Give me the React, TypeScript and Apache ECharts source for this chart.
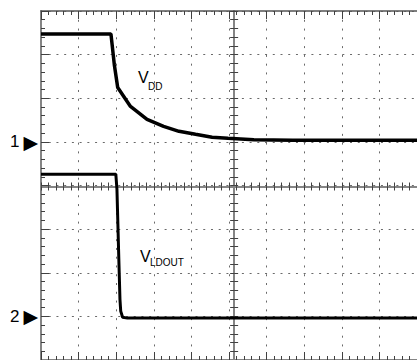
import React, { useEffect, useRef } from "react";
import * as echarts from "echarts";

// Time in divisions (0..10), levels in divisions relative to each channel's ground marker
const vddTime = [0, 1.86, 1.95, 2.04, 2.38, 2.82, 3.26, 3.67, 4.11, 4.55, 4.97, 5.66, 6.7, 8.0, 10.0];
const vddLevel = [2.475, 2.475, 1.77, 1.244, 0.811, 0.515, 0.356, 0.242, 0.173, 0.105, 0.082, 0.048, 0.036, 0.036, 0.036];

const ldoTime = [0, 1.99, 2.02, 2.07, 2.1, 2.12, 2.17, 2.3, 10.0];
const ldoLevel = [3.26, 3.26, 2.91, 1.31, 0.39, 0.12, -0.02, -0.04, -0.04];

const channelGround = [1, -3]; // ground marker position (divisions from screen centre)
const channelNames = ["1", "2"];

const gridLeft = 41;
const gridTop = 11;
const divW = 38.63;
const divH = 43.875;

const axisGray = "#858585";
const tickColor = "#404040";
const dotColor = "#6a6a6a";

export default function App() {
  const ref = useRef<HTMLDivElement>(null);

  useEffect(() => {
    const chart = echarts.init(ref.current as HTMLDivElement, null, { renderer: "svg" });

    const baseX = {
      type: "value",
      min: 0,
      max: 10,
      interval: 1,
      axisLabel: { show: false },
    };
    const baseY = {
      type: "value",
      min: -4,
      max: 4,
      interval: 1,
    };

    const option: any = {
      animation: false,
      backgroundColor: "#ffffff",
      grid: { left: gridLeft, top: gridTop, width: divW * 10, height: divH * 8, containLabel: false },
      xAxis: [
        {
          ...baseX,
          position: "bottom",
          axisLine: { show: true, onZero: false, lineStyle: { color: axisGray, width: 2 } },
          axisTick: { show: true, inside: true, length: 8, lineStyle: { color: tickColor } },
          minorTick: { show: true, splitNumber: 5, length: 4, lineStyle: { color: tickColor } },
          splitLine: { show: true, lineStyle: { color: dotColor, width: 1, type: [2, divH / 5 - 2], cap: "butt" } },
        },
        {
          ...baseX,
          position: "top",
          splitLine: { show: false },
          axisLine: { show: true, onZero: false, lineStyle: { color: "#555", width: 1.5 } },
          axisTick: { show: true, inside: true, length: 8, lineStyle: { color: tickColor } },
          minorTick: { show: true, splitNumber: 5, length: 4, lineStyle: { color: tickColor } },
        },
        {
          ...baseX,
          position: "top",
          offset: -4 * divH,
          splitLine: { show: false },
          axisLine: { show: true, onZero: false, lineStyle: { color: axisGray, width: 2 } },
          axisTick: { show: true, inside: true, length: 4, lineStyle: { color: tickColor } },
          minorTick: { show: true, splitNumber: 5, length: 4, lineStyle: { color: tickColor } },
        },
        {
          ...baseX,
          position: "top",
          offset: -4 * divH,
          splitLine: { show: false },
          axisLine: { show: false, onZero: false },
          axisTick: { show: true, inside: false, length: 4, lineStyle: { color: tickColor } },
          minorTick: { show: true, splitNumber: 5, length: 4, lineStyle: { color: tickColor } },
        },
      ],
      yAxis: [
        {
          ...baseY,
          position: "left",
          axisLine: { show: true, onZero: false, lineStyle: { color: axisGray, width: 2 } },
          axisTick: { show: true, inside: true, length: 8, lineStyle: { color: tickColor } },
          minorTick: { show: true, splitNumber: 5, length: 4, lineStyle: { color: tickColor } },
          splitLine: { show: true, lineStyle: { color: dotColor, width: 1, type: [2, divW / 5 - 2], cap: "butt" } },
          axisLabel: {
            show: true,
            margin: 3,
            formatter: (v: number) => {
              const i = channelGround.indexOf(Math.round(v));
              return i >= 0 && Math.abs(v - channelGround[i]) < 1e-6 ? `{n|${channelNames[i]}}{t|▶}` : "";
            },
            rich: {
              n: { fontSize: 17, fontFamily: "Liberation Sans", color: "#000", padding: [0, 4, 0, 0] },
              t: { fontSize: 19, fontFamily: "DejaVu Sans", color: "#000" },
            },
          },
        },
        {
          ...baseY,
          position: "left",
          offset: -5 * divW,
          splitLine: { show: false },
          axisLabel: { show: false },
          axisLine: { show: true, onZero: false, lineStyle: { color: axisGray, width: 2 } },
          axisTick: { show: true, inside: true, length: 4, lineStyle: { color: tickColor } },
          minorTick: { show: true, splitNumber: 5, length: 4, lineStyle: { color: tickColor } },
        },
        {
          ...baseY,
          position: "left",
          offset: -5 * divW,
          splitLine: { show: false },
          axisLabel: { show: false },
          axisLine: { show: false, onZero: false },
          axisTick: { show: true, inside: false, length: 4, lineStyle: { color: tickColor } },
          minorTick: { show: true, splitNumber: 5, length: 4, lineStyle: { color: tickColor } },
        },
      ],
      series: [
        {
          name: "VDD",
          type: "line",
          xAxisIndex: 0,
          yAxisIndex: 0,
          symbol: "none",
          silent: true,
          z: 5,
          lineStyle: { color: "#000", width: 3.5 },
          data: vddTime.map((t, i) => [t, vddLevel[i] + channelGround[0]]),
        },
        {
          name: "VLDOUT",
          type: "line",
          xAxisIndex: 0,
          yAxisIndex: 0,
          symbol: "none",
          silent: true,
          z: 5,
          lineStyle: { color: "#000", width: 3 },
          data: ldoTime.map((t, i) => [t, ldoLevel[i] + channelGround[1]]),
        },
      ],
      graphic: [
        { type: "text", x: 138, y: 77, style: { text: "V", fontSize: 16, fontFamily: "Liberation Sans", fill: "#000", textVerticalAlign: "middle" } },
        { type: "text", x: 148, y: 86, style: { text: "DD", fontSize: 10, fontFamily: "Liberation Sans", fill: "#000", textVerticalAlign: "middle" } },
        { type: "text", x: 140, y: 256, style: { text: "V", fontSize: 16, fontFamily: "Liberation Sans", fill: "#000", textVerticalAlign: "middle" } },
        { type: "text", x: 150, y: 262, style: { text: "LDOUT", fontSize: 10, fontFamily: "Liberation Sans", fill: "#000", textVerticalAlign: "middle" } },
      ],
    };

    chart.setOption(option);
    return () => chart.dispose();
  }, []);

  return (
    <div
      ref={ref}
      style={{ position: "fixed", left: 0, top: 0, width: 417, height: 360, overflow: "hidden", background: "#fff" }}
    />
  );
}
